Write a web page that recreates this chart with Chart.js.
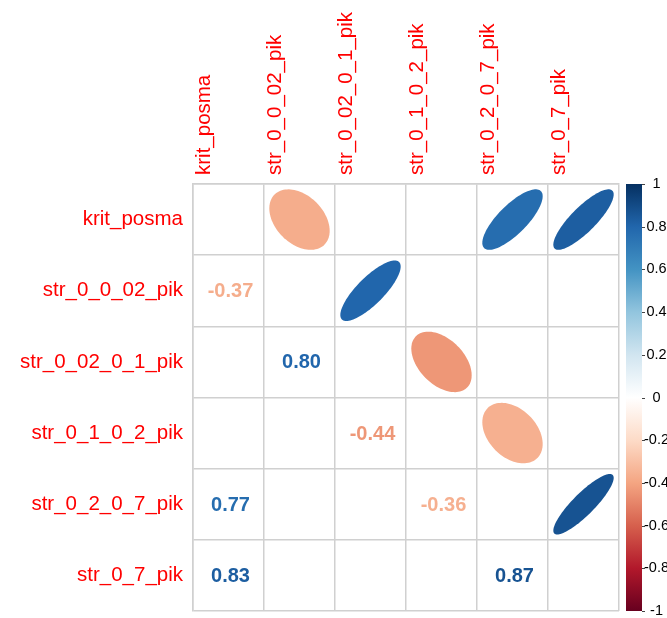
<!DOCTYPE html>
<html lang="en">
<head>
<meta charset="UTF-8">
<title>Correlation matrix</title>
<style>
  html, body { margin: 0; padding: 0; background: #fff; }
  #wrap { width: 667px; height: 618px; }
</style>
</head>
<body>
<div id="wrap"><canvas id="corr" width="667" height="618"></canvas></div>

<script src="https://cdn.jsdelivr.net/npm/chart.js"></script>
<script>
const varNames = ['krit_posma', 'str_0_0_02_pik', 'str_0_02_0_1_pik', 'str_0_1_0_2_pik', 'str_0_2_0_7_pik', 'str_0_7_pik'];

// only the significant pairs; row > col is the lower triangle (numbers), mirrored above as ellipses
const pairRow = [1, 2, 3, 4, 4, 5, 5];
const pairCol = [0, 1, 2, 0, 3, 0, 4];
const pairR = [-0.37, 0.80, -0.44, 0.77, -0.36, 0.83, 0.87];

const legendTicks = [-1, -0.8, -0.6, -0.4, -0.2, 0, 0.2, 0.4, 0.6, 0.8, 1];
const rdbu = ['#67001F', '#B2182B', '#D6604D', '#F4A582', '#FDDBC7', '#FFFFFF',
              '#D1E5F0', '#92C5DE', '#4393C3', '#2166AC', '#053061'];

const fam = "'Liberation Sans', Arial, sans-serif";
const gridColor = '#d0d0d0';

function hexRgb(h) {
  return [1, 3, 5].map(i => parseInt(h.substr(i, 2), 16));
}

function corrColor(r) {
  const p = (r + 1) / 2 * (rdbu.length - 1);
  const i = Math.min(Math.floor(p), rdbu.length - 2);
  const t = p - i;
  const a = hexRgb(rdbu[i]), b = hexRgb(rdbu[i + 1]);
  const c = a.map((v, k) => Math.round(v + (b[k] - v) * t));
  return 'rgb(' + c.join(',') + ')';
}

// ellipse points in cell units, like corrplot (rho -> shape)
function ellipsePts(rho) {
  const d = Math.acos(rho) / 2;
  const pts = [];
  for (let k = 0; k < 99; k++) {
    const t = 2 * Math.PI * k / 98;
    pts.push([Math.cos(t + d) / 2, Math.cos(t - d) / 2]);
  }
  return pts;
}

const ellipseData = pairR.map((r, i) => ({ x: varNames[pairRow[i]], y: varNames[pairCol[i]], r: r }));
const numberData = pairR.map((r, i) => ({ x: varNames[pairCol[i]], y: varNames[pairRow[i]], r: r }));

// keep the vertical axes from adding extra room above/below the grid
function noPad(s) {
  s.paddingTop = 0;
  s.paddingBottom = 0;
}

const corrPlugin = {
  id: 'corrMarks',
  beforeDatasetsDraw(chart) {
    // colour legend bar
    const ctx = chart.ctx;
    const cb = chart.scales.cb;
    const top = cb.getPixelForValue(1), bottom = cb.getPixelForValue(-1);
    const left = cb.left + 7, w = 16;
    const g = ctx.createLinearGradient(0, bottom, 0, top);
    rdbu.forEach((c, i) => g.addColorStop(i / (rdbu.length - 1), c));
    ctx.save();
    ctx.fillStyle = g;
    ctx.fillRect(left, top, w, bottom - top);
    ctx.strokeStyle = '#444';
    ctx.lineWidth = 1;
    legendTicks.forEach(v => {
      const y = Math.round(cb.getPixelForValue(v)) + 0.5;
      ctx.beginPath();
      ctx.moveTo(left + w, y);
      ctx.lineTo(left + w + 3, y);
      ctx.stroke();
    });
    ctx.restore();
  },
  afterDatasetsDraw(chart) {
    const ctx = chart.ctx;
    const xs = chart.scales.x, ys = chart.scales.y;
    const cw = Math.abs(xs.getPixelForValue(1) - xs.getPixelForValue(0));
    const ch = Math.abs(ys.getPixelForValue(1) - ys.getPixelForValue(0));
    ctx.save();

    const ellMeta = chart.getDatasetMeta(0);
    ellMeta.data.forEach((el, i) => {
      const r = ellipseData[i].r;
      ctx.beginPath();
      ellipsePts(r).forEach(([ex, ey], k) => {
        const px = el.x + 0.85 * ex * cw;
        const py = el.y - 0.85 * ey * ch;
        if (k === 0) ctx.moveTo(px, py); else ctx.lineTo(px, py);
      });
      ctx.closePath();
      ctx.fillStyle = corrColor(r);
      ctx.fill();
    });

    const numMeta = chart.getDatasetMeta(1);
    ctx.font = 'bold 20px ' + fam;
    ctx.textAlign = 'center';
    ctx.textBaseline = 'middle';
    numMeta.data.forEach((el, i) => {
      const r = numberData[i].r;
      ctx.fillStyle = corrColor(r);
      ctx.fillText(r.toFixed(2), el.x + 2, el.y + 1);
    });
    ctx.restore();
  }
};

Chart.defaults.font.family = fam;

new Chart(document.getElementById('corr'), {
  type: 'scatter',
  data: {
    datasets: [
      { label: 'ellipse', data: ellipseData, pointRadius: 0, showLine: false },
      { label: 'number', data: numberData, pointRadius: 0, showLine: false }
    ]
  },
  options: {
    responsive: false,
    animation: false,
    events: [],
    layout: { padding: { bottom: 7 } },
    plugins: { legend: { display: false }, tooltip: { enabled: false } },
    scales: {
      x: {
        type: 'category',
        labels: varNames,
        position: 'top',
        offset: true,
        grid: { offset: true, color: gridColor, lineWidth: 1.5, drawTicks: false },
        border: { color: gridColor, width: 1.5 },
        ticks: { color: '#FF0000', font: { size: 20.5 }, minRotation: 90, maxRotation: 90, autoSkip: false, padding: 9 },
        afterFit: s => { s.height = 184; }
      },
      y: {
        type: 'category',
        labels: varNames,
        position: 'left',
        offset: true,
        grid: { offset: true, color: gridColor, lineWidth: 1.5, drawTicks: false },
        border: { color: gridColor, width: 1.5 },
        ticks: { color: '#FF0000', font: { size: 20.5 }, autoSkip: false, padding: 10 },
        afterFit: s => { s.width = 193; noPad(s); }
      },
      cb: {
        type: 'linear',
        position: 'right',
        min: -1,
        max: 1,
        afterBuildTicks: s => { s.ticks = legendTicks.map(v => ({ value: v })); },
        grid: { drawOnChartArea: false, drawTicks: false },
        border: { display: false },
        ticks: { color: '#000', font: { size: 14.5 }, crossAlign: 'center', padding: 25, callback: v => String(v) },
        afterFit: s => { s.width = 48; noPad(s); }
      }
    }
  },
  plugins: [corrPlugin]
});
</script>
</body>
</html>
